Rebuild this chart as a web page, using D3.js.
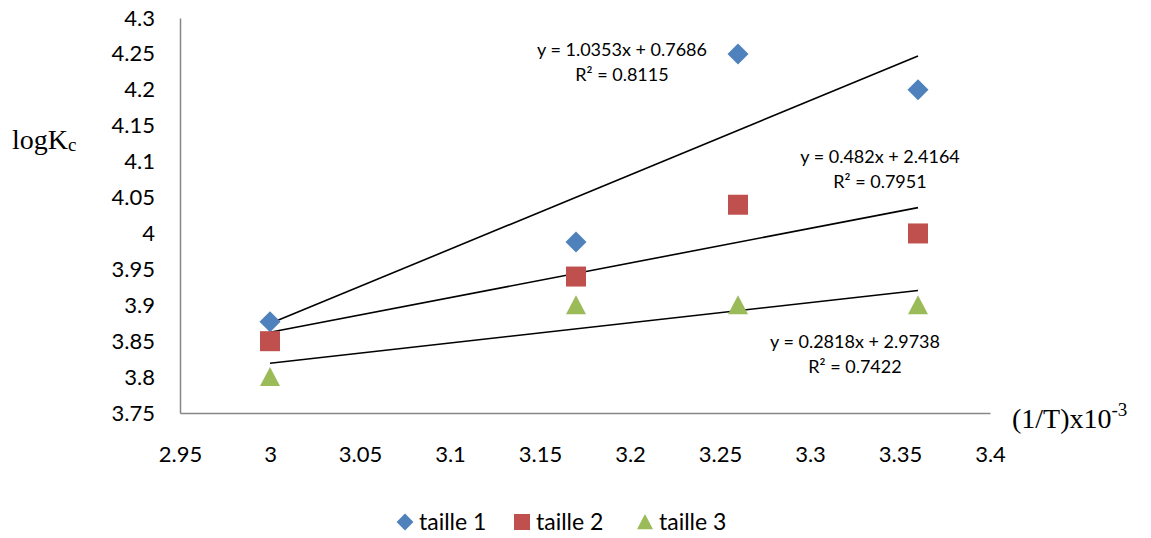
<!DOCTYPE html>
<html><head><meta charset="utf-8">
<script src="https://cdn.jsdelivr.net/npm/d3@7"></script>
<style>body{margin:0;background:#fff}</style>
</head><body>
<script>
const xValues = [3, 3.17, 3.26, 3.36];
const seriesNames = ["taille 1", "taille 2", "taille 3"];
const taille1 = [3.877, 3.988, 4.25, 4.2];
const taille2 = [3.85, 3.94, 4.04, 4.0];
const taille3 = [3.8, 3.9, 3.9, 3.9];
const slopes = [1.0353, 0.482, 0.2818];
const intercepts = [0.7686, 2.4164, 2.9738];
const eqLabels = ["y = 1.0353x + 0.7686", "y = 0.482x + 2.4164", "y = 0.2818x + 2.9738"];
const r2Labels = ["R² = 0.8115", "R² = 0.7951", "R² = 0.7422"];
const xTicks = [2.95, 3, 3.05, 3.1, 3.15, 3.2, 3.25, 3.3, 3.35, 3.4];
const yTicks = [3.75, 3.8, 3.85, 3.9, 3.95, 4, 4.05, 4.1, 4.15, 4.2, 4.25, 4.3];

const colors = ["#4F81BD", "#C0504D", "#9BBB59"];
const series = [taille1, taille2, taille3];
const W = 1151, H = 538;
const svg = d3.select("body").append("svg").attr("width", W).attr("height", H);
const x = d3.scaleLinear().domain([2.95, 3.4]).range([180, 990]);
const y = d3.scaleLinear().domain([3.75, 4.3]).range([413, 18]);
const font = "Lato, 'Open Sans', sans-serif";

// axes
const yAxis = svg.append("g").attr("transform", "translate(180,0)")
  .call(d3.axisLeft(y).tickValues(yTicks).tickSize(0).tickPadding(25).tickFormat(d3.format("")));
const xAxis = svg.append("g").attr("transform", "translate(0,413)")
  .call(d3.axisBottom(x).tickValues(xTicks).tickSize(0).tickPadding(33).tickFormat(d3.format("")));
[xAxis, yAxis].forEach(a => {
  a.select(".domain").attr("stroke", "#868686").attr("stroke-width", 1.5);
  a.selectAll("text").attr("font-family", font).attr("font-size", 22).attr("fill", "#000");
});

// trendlines
series.forEach((s, i) => {
  const x0 = d3.min(xValues), x1 = d3.max(xValues);
  svg.append("line")
    .attr("x1", x(x0)).attr("y1", y(slopes[i] * x0 + intercepts[i]))
    .attr("x2", x(x1)).attr("y2", y(slopes[i] * x1 + intercepts[i]))
    .attr("stroke", "#000").attr("stroke-width", 1.6);
});

// markers
function marker(g, i) {
  if (i === 0) g.append("path").attr("d", "M0,-10.5L10.5,0L0,10.5L-10.5,0Z").attr("fill", colors[0]);
  else if (i === 1) g.append("rect").attr("x", -10).attr("y", -10).attr("width", 20).attr("height", 20).attr("fill", colors[1]);
  else g.append("path").attr("d", "M0,-10L10,9L-10,9Z").attr("fill", colors[2]);
}
series.forEach((s, i) => {
  s.forEach((v, j) => {
    const g = svg.append("g").attr("transform", `translate(${x(xValues[j])},${y(v)})`);
    marker(g, i);
  });
});

// equation labels
const eqPos = [[622, 50], [880, 157], [855, 342]];
eqPos.forEach((p, i) => {
  const t = svg.append("text").attr("font-family", font).attr("font-size", 18).attr("text-anchor", "middle");
  t.append("tspan").attr("x", p[0]).attr("y", p[1] + 6).text(eqLabels[i]);
  t.append("tspan").attr("x", p[0]).attr("y", p[1] + 31).text(r2Labels[i]);
});

// axis titles
const yt = svg.append("text").attr("x", 12).attr("y", 149).attr("font-family", "'Liberation Serif', serif").attr("font-size", 28);
yt.append("tspan").text("logK");
yt.append("tspan").attr("font-size", 19).attr("dy", 2).text("c");
const xt = svg.append("text").attr("x", 1012).attr("y", 428).attr("font-family", "'Liberation Serif', serif").attr("font-size", 28);
xt.append("tspan").text("(1/T)x10");
xt.append("tspan").attr("font-size", 19).attr("dy", -12).text("-3");

// legend
const legX = [405, 522, 645];
seriesNames.forEach((n, i) => {
  const g = svg.append("g").attr("transform", `translate(${legX[i]},522) scale(0.8)`);
  marker(g, i);
  svg.append("text").attr("x", legX[i] + 14).attr("y", 530).attr("font-family", font).attr("font-size", 23).text(n);
});
</script>
</body></html>
